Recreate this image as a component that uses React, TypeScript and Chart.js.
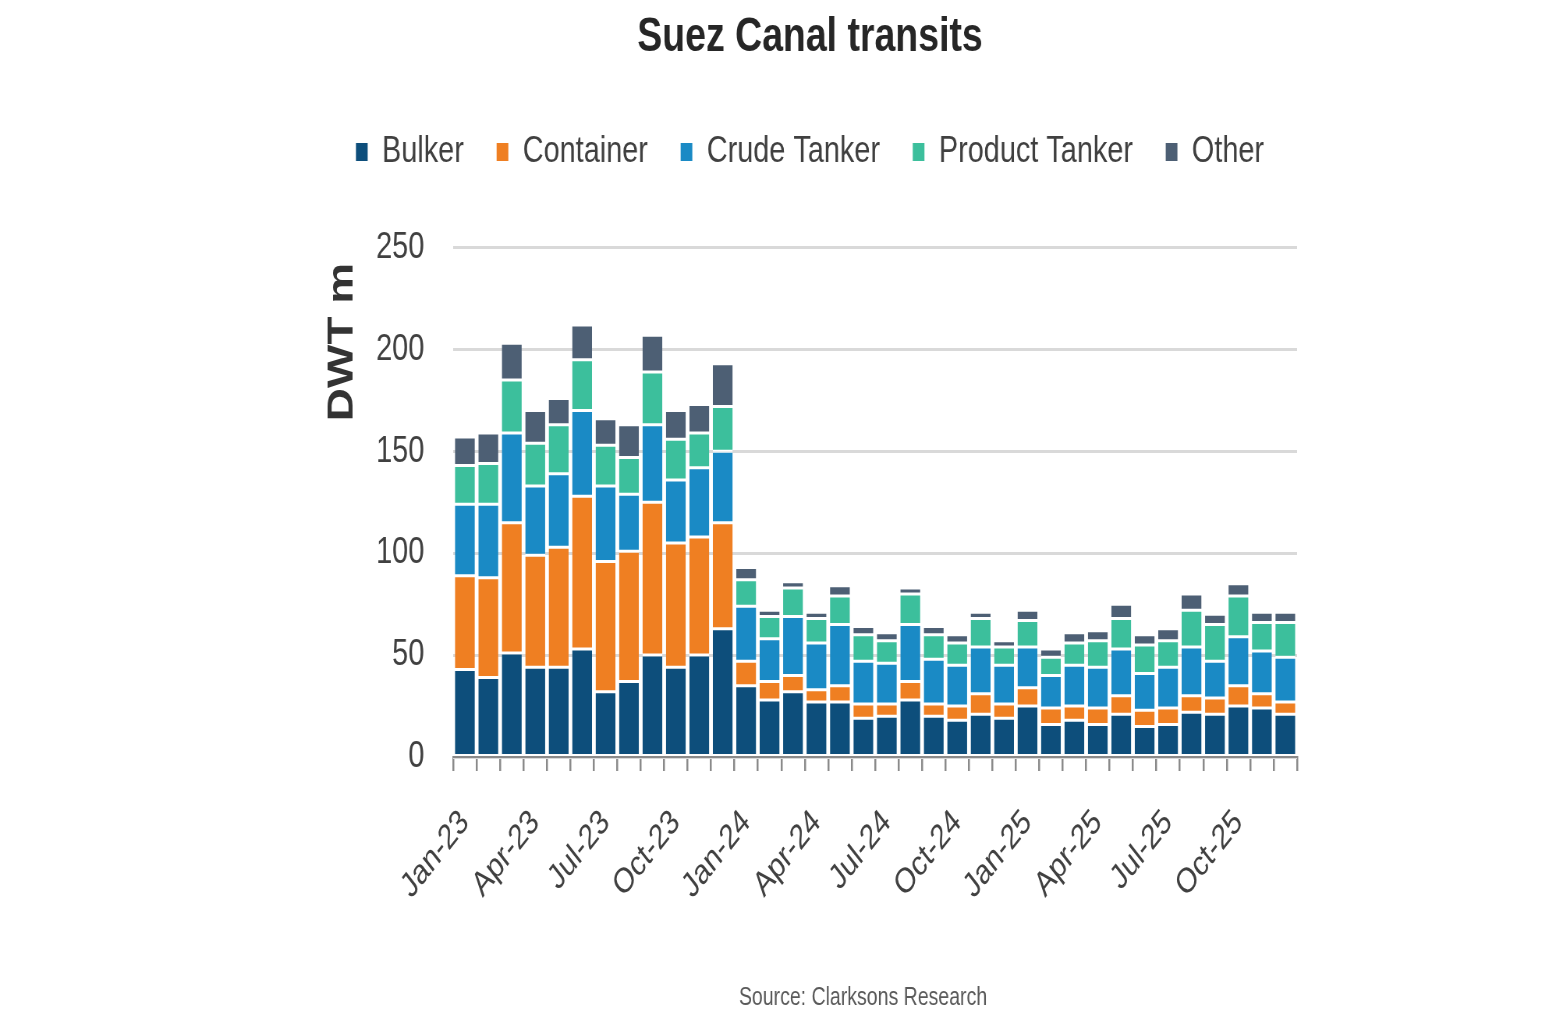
import { useEffect, useRef } from 'react';
import { Chart, registerables } from 'chart.js';

Chart.register(...registerables);

const months = [
  'Jan-23', 'Feb-23', 'Mar-23', 'Apr-23', 'May-23', 'Jun-23', 'Jul-23', 'Aug-23', 'Sep-23', 'Oct-23', 'Nov-23', 'Dec-23',
  'Jan-24', 'Feb-24', 'Mar-24', 'Apr-24', 'May-24', 'Jun-24', 'Jul-24', 'Aug-24', 'Sep-24', 'Oct-24', 'Nov-24', 'Dec-24',
  'Jan-25', 'Feb-25', 'Mar-25', 'Apr-25', 'May-25', 'Jun-25', 'Jul-25', 'Aug-25', 'Sep-25', 'Oct-25', 'Nov-25', 'Dec-25',
];

const xTickLabels = ['Jan-23', 'Apr-23', 'Jul-23', 'Oct-23', 'Jan-24', 'Apr-24', 'Jul-24', 'Oct-24', 'Jan-25', 'Apr-25', 'Jul-25', 'Oct-25'];
const yTickValues = [0, 50, 100, 150, 200, 250];

const bulker = [43, 39, 51, 44, 44, 53, 32, 37, 50, 44, 50, 63, 35, 28, 32, 27, 27, 19, 20, 28, 20, 18, 21, 19, 25, 16, 18, 16, 21, 15, 16, 22, 21, 25, 24, 21];
const container = [46, 49, 64, 55, 59, 75, 64, 64, 75, 61, 58, 52, 12, 9, 8, 6, 8, 7, 6, 9, 6, 7, 10, 7, 9, 8, 7, 8, 9, 8, 8, 8, 8, 10, 7, 6];
const crudeTanker = [35, 36, 44, 34, 36, 42, 37, 28, 38, 31, 34, 35, 27, 21, 29, 23, 30, 21, 20, 28, 22, 20, 23, 19, 20, 16, 20, 20, 23, 18, 20, 24, 18, 24, 21, 22];
const productTanker = [19, 20, 26, 21, 24, 25, 20, 18, 26, 20, 17, 22, 13, 11, 14, 12, 14, 13, 11, 15, 12, 11, 14, 9, 13, 9, 11, 13, 15, 14, 13, 18, 18, 20, 14, 17];
const other = [14, 15, 18, 16, 13, 17, 13, 16, 18, 14, 14, 21, 6, 3, 3, 3, 5, 4, 4, 3, 4, 4, 3, 3, 5, 4, 5, 5, 7, 5, 6, 8, 5, 6, 5, 5];

const seriesNames = ['Bulker', 'Container', 'Crude Tanker', 'Product Tanker', 'Other'];
const seriesColors = ['#0d4e7b', '#ef7f22', '#1a8ac5', '#3cbf9c', '#4d5f74'];

const titleText = 'Suez Canal transits';
const yTitleText = 'DWT m';
const sourceText = 'Source: Clarksons Research';

// The reference is horizontally compressed; render on a wider canvas and squeeze it with CSS.
const SCREEN_W = 1556;
const SCREEN_H = 1021;
const CANVAS_W = 1995;
const SX = SCREEN_W / CANVAS_W;

const SANS = '"Liberation Sans", Arial, sans-serif';

export default function App() {
  const canvasRef = useRef<HTMLCanvasElement | null>(null);

  useEffect(() => {
    const canvas = canvasRef.current;
    if (!canvas) return;
    const seriesData = [bulker, container, crudeTanker, productTanker, other];

    const legendSpacer = {
      id: 'legendSpacer',
      beforeInit(chart: any) {
        const legend = chart.legend;
        if (!legend) return;
        const origFit = legend.fit;
        legend.fit = function () {
          origFit.call(this);
          this.height += 67;
        };
      },
    };

    const extraText = {
      id: 'extraText',
      afterDraw(chart: any) {
        const ctx = chart.ctx;
        ctx.save();
        ctx.fillStyle = '#333333';
        ctx.font = `bold 46px ${SANS}`;
        ctx.textAlign = 'center';
        ctx.textBaseline = 'middle';
        ctx.translate(342.5 / SX, 342);
        ctx.rotate(-Math.PI / 2);
        ctx.fillText(yTitleText, 0, 0);
        ctx.restore();

        ctx.save();
        ctx.fillStyle = '#595959';
        ctx.font = `25px ${SANS}`;
        ctx.textAlign = 'center';
        ctx.textBaseline = 'middle';
        ctx.fillText(sourceText, 863 / SX, 998);
        ctx.restore();
      },
    };

    const chart = new Chart(canvas, {
      type: 'bar',
      data: {
        labels: months,
        datasets: seriesNames.map((name, i) => ({
          label: name,
          data: seriesData[i],
          backgroundColor: seriesColors[i],
          borderColor: '#ffffff',
          borderWidth: { top: 1.5, bottom: 1.5, left: 0, right: 0 },
          borderSkipped: false,
          barPercentage: 0.85,
          categoryPercentage: 1,
        })),
      },
      options: {
        animation: false,
        responsive: false,
        devicePixelRatio: 1,
        layout: { padding: { left: 414, right: 332, top: 0, bottom: 0 } },
        plugins: {
          title: {
            display: true,
            text: titleText,
            color: '#262626',
            font: { family: SANS, size: 48, weight: 'bold' },
            padding: { top: 9, bottom: 25 },
          },
          legend: {
            display: true,
            position: 'top',
            labels: {
              boxWidth: 15,
              boxHeight: 18,
              padding: 42,
              color: '#404040',
              font: { family: SANS, size: 37 },
              generateLabels: (chart: any) =>
                chart.data.datasets.map((ds: any, i: number) => ({
                  text: ds.label,
                  fillStyle: ds.backgroundColor,
                  strokeStyle: ds.backgroundColor,
                  lineWidth: 0,
                  hidden: false,
                  datasetIndex: i,
                  fontColor: '#404040',
                })),
            },
          },
          tooltip: { enabled: false },
        },
        scales: {
          x: {
            stacked: true,
            afterFit: (scale: any) => {
              scale.height = SCREEN_H - 757;
            },
            grid: {
              display: true,
              drawOnChartArea: false,
              drawTicks: true,
              tickLength: 14,
              color: '#8a8a8a',
              lineWidth: 2.5,
              offset: true,
            },
            border: { display: true, color: '#8a8a8a', width: 2 },
            ticks: {
              autoSkip: false,
              maxRotation: 45,
              minRotation: 45,
              padding: 31,
              color: '#404040',
              font: { family: SANS, size: 35 },
              callback: (_v: any, idx: number) => (xTickLabels.includes(months[idx]) ? months[idx] : ''),
            },
          },
          y: {
            stacked: true,
            min: 0,
            max: 250,
            afterFit: (scale: any) => {
              scale.width = 167;
            },
            afterBuildTicks: (scale: any) => {
              scale.ticks = yTickValues.map((v) => ({ value: v }));
            },
            grid: {
              display: true,
              drawTicks: false,
              color: '#d9d9d9',
              lineWidth: 3,
            },
            border: { display: false },
            ticks: {
              padding: 37,
              color: '#404040',
              font: { family: SANS, size: 37 },
            },
          },
        },
      },
      plugins: [legendSpacer, extraText],
    } as any);

    return () => {
      chart.destroy();
    };
  }, []);

  return (
    <div style={{ position: 'absolute', left: 0, top: 0, width: SCREEN_W, height: SCREEN_H, background: '#ffffff', overflow: 'hidden' }}>
      <canvas
        ref={canvasRef}
        width={CANVAS_W}
        height={SCREEN_H}
        style={{ width: SCREEN_W, height: SCREEN_H, display: 'block' }}
      />
    </div>
  );
}
